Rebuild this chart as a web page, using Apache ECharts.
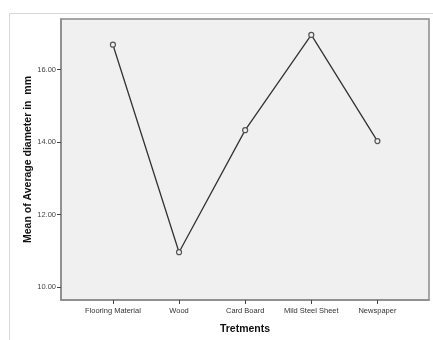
<!DOCTYPE html>
<html>
<head>
<meta charset="utf-8">
<script src="https://cdn.jsdelivr.net/npm/echarts@6/dist/echarts.min.js"></script>
<style>html,body{margin:0;padding:0;background:#fff;}#c{width:433px;height:340px;}</style>
</head>
<body>
<div id="c"></div>
<script>
var categories = ["Flooring Material", "Wood", "Card Board", "Mild Steel Sheet", "Newspaper"];
var means = [16.69, 10.96, 14.33, 16.96, 14.03];
var yTicks = [10, 12, 14, 16];
var xTicks = [0, 1, 2, 3, 4];

var chart = echarts.init(document.getElementById('c'), null, {renderer: 'canvas'});
var font = 'Arial, "Liberation Sans", sans-serif';
chart.setOption({
  animation: false,
  backgroundColor: '#fff',
  graphic: [{
    type: 'rect', left: 7, top: 11, shape: {width: 500, height: 400},
    style: {fill: 'none', stroke: '#d8d8d8', lineWidth: 1}, z: -10
  }],
  grid: {
    left: 61, top: 19, width: 368, height: 283,
    show: true, backgroundColor: '#f0f0f0', borderColor: '#8a8a8a', borderWidth: 1.5
  },
  xAxis: {
    type: 'value', min: -0.785, max: 4.78, position: 'bottom',
    name: 'Tretments', nameLocation: 'middle', nameGap: 24, nameMoveOverlap: false,
    nameTextStyle: {fontFamily: font, fontWeight: 'bold', fontSize: 10.5, color: '#111'},
    axisLine: {show: true, onZero: false, lineStyle: {color: '#8a8a8a', width: 1.5}},
    splitLine: {show: false},
    axisTick: {show: true, inside: false, customValues: xTicks, length: 4, lineStyle: {color: '#444', width: 1}},
    axisLabel: {
      customValues: xTicks, fontFamily: font, fontSize: 7.5, color: '#333', margin: 7,
      formatter: function (v) { return categories[Math.round(v)]; }
    }
  },
  yAxis: {
    type: 'value', min: 9.64, max: 17.4, position: 'left',
    name: 'Mean of Average diameter in  mm', nameLocation: 'middle', nameGap: 27, nameMoveOverlap: false,
    nameTextStyle: {fontFamily: font, fontWeight: 'bold', fontSize: 10.5, color: '#111'},
    axisLine: {show: true, onZero: false, lineStyle: {color: '#8a8a8a', width: 1.5}},
    splitLine: {show: false},
    axisTick: {show: true, inside: false, customValues: yTicks, length: 4, lineStyle: {color: '#444', width: 1}},
    axisLabel: {
      customValues: yTicks, fontFamily: font, fontSize: 7.5, color: '#444', margin: 5,
      formatter: function (v) { return v.toFixed(2); }
    }
  },
  series: [{
    type: 'line',
    data: means.map(function (m, i) { return [i, m]; }),
    symbol: 'circle', symbolSize: 5,
    lineStyle: {color: '#333', width: 1.3},
    itemStyle: {color: '#f0f0f0', borderColor: '#555', borderWidth: 1.2}
  }]
});
</script>
</body>
</html>
